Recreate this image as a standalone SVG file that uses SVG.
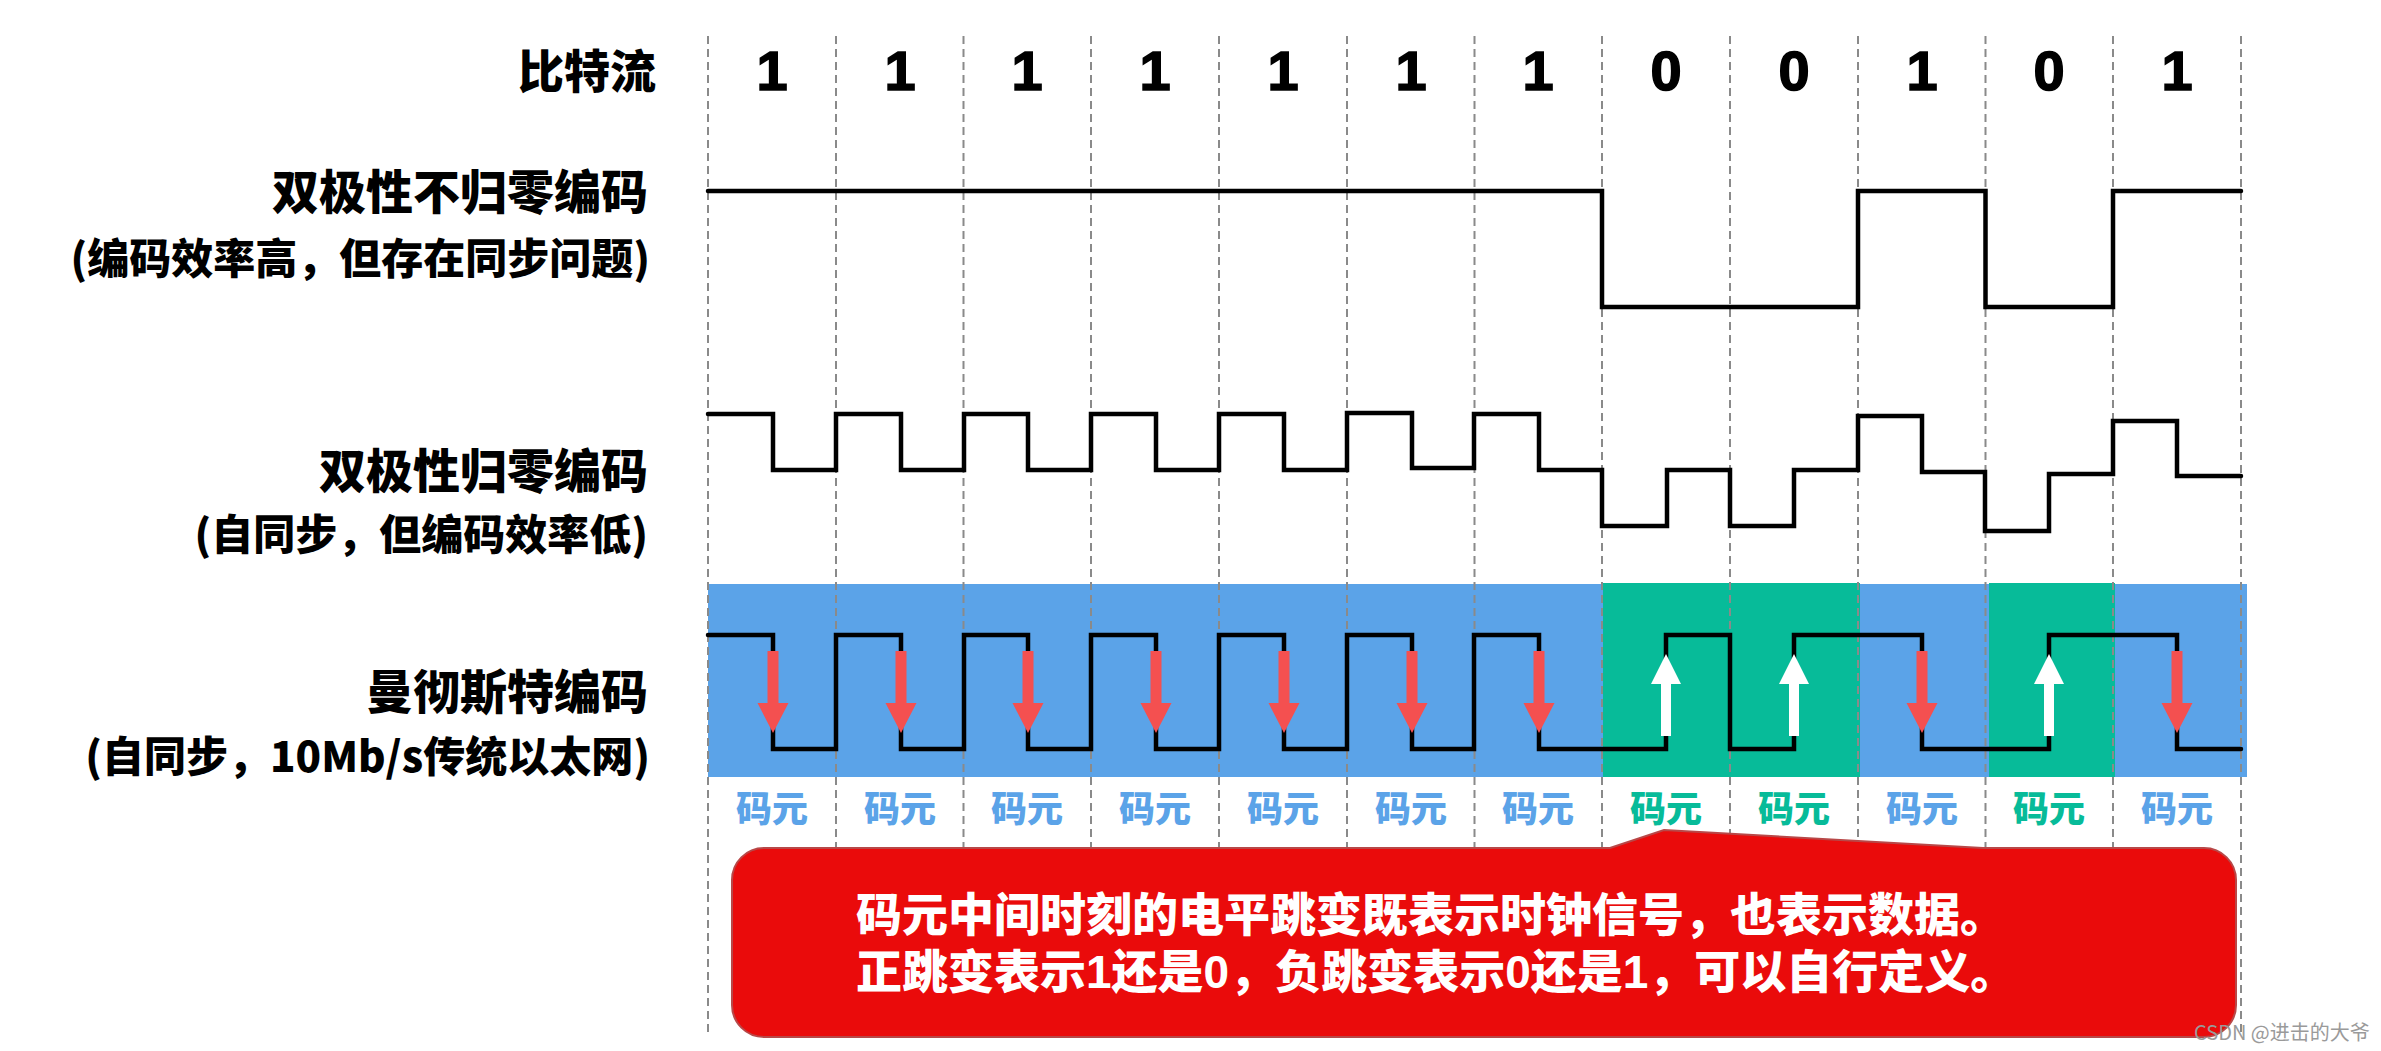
<svg xmlns="http://www.w3.org/2000/svg" width="2381" height="1051" viewBox="0 0 2381 1051">
<style>
.lbl{font-family:"Noto Sans CJK SC","Liberation Sans",sans-serif;font-weight:900;fill:#000;text-anchor:end}
.big{font-size:47px}
.sub{font-size:42px}
.bit{font-family:"Liberation Sans",Arial,sans-serif;font-weight:bold;font-size:56px;fill:#000;stroke:#000;stroke-width:1.5;text-anchor:middle}
.sym{font-family:"Noto Sans CJK SC","Liberation Sans",sans-serif;font-weight:900;font-size:36px;text-anchor:middle}
.symb{fill:#5BA3E8}
.symg{fill:#07BB99}
.grid{stroke:#8a8a8a;stroke-width:2;stroke-dasharray:8 5;fill:none}
.wave{stroke:#000;stroke-width:4.5;fill:none;stroke-linejoin:miter;stroke-linecap:round}
.down{fill:#F45050}
.up{fill:#FFFFFF}
.note{font-family:"Liberation Sans","Noto Sans CJK SC",sans-serif;font-weight:900;font-size:46px;fill:#FFFFFF}
</style>

<g id="backgrounds">
  <rect x="708" y="584" width="1539" height="193" fill="#5BA3E8"/>
  <rect x="1603" y="583" width="257" height="194" fill="#07BB99"/>
  <rect x="1989" y="583" width="126" height="194" fill="#07BB99"/>
</g>

<g id="grid">
  <line class="grid" x1="708" y1="36" x2="708" y2="1035"/>
  <line class="grid" x1="836" y1="36" x2="836" y2="1035"/>
  <line class="grid" x1="963.5" y1="36" x2="963.5" y2="1035"/>
  <line class="grid" x1="1091" y1="36" x2="1091" y2="1035"/>
  <line class="grid" x1="1219" y1="36" x2="1219" y2="1035"/>
  <line class="grid" x1="1347" y1="36" x2="1347" y2="1035"/>
  <line class="grid" x1="1474.5" y1="36" x2="1474.5" y2="1035"/>
  <line class="grid" x1="1602" y1="36" x2="1602" y2="1035"/>
  <line class="grid" x1="1730" y1="36" x2="1730" y2="1035"/>
  <line class="grid" x1="1858" y1="36" x2="1858" y2="1035"/>
  <line class="grid" x1="1985.5" y1="36" x2="1985.5" y2="1035"/>
  <line class="grid" x1="2113" y1="36" x2="2113" y2="1035"/>
  <line class="grid" x1="2241" y1="36" x2="2241" y2="1035"/>
</g>

<g id="row-labels">
  <text class="lbl" x="656" y="88" font-size="46">比特流</text>
  <text class="lbl big" x="648" y="209">双极性不归零编码</text>
  <text class="lbl sub" x="650" y="274">(编码效率高，但存在同步问题)</text>
  <text class="lbl big" x="648" y="488">双极性归零编码</text>
  <text class="lbl sub" x="648" y="550">(自同步，但编码效率低)</text>
  <text class="lbl big" x="648" y="709">曼彻斯特编码</text>
  <text class="lbl sub" x="650" y="772">(自同步，10Mb/s传统以太网)</text>
</g>

<g id="bits">
  <text class="bit" x="772" y="90">1</text>
  <text class="bit" x="900" y="90">1</text>
  <text class="bit" x="1027" y="90">1</text>
  <text class="bit" x="1155" y="90">1</text>
  <text class="bit" x="1283" y="90">1</text>
  <text class="bit" x="1411" y="90">1</text>
  <text class="bit" x="1538" y="90">1</text>
  <text class="bit" x="1666" y="90">0</text>
  <text class="bit" x="1794" y="90">0</text>
  <text class="bit" x="1922" y="90">1</text>
  <text class="bit" x="2049" y="90">0</text>
  <text class="bit" x="2177" y="90">1</text>
</g>

<g id="connectors">
  <path id="nrz" class="wave" d="M708 191 H1602 V307 H1858 V191 H1985.5 V307 H2113 V191 H2241"/>
  <path id="rz" class="wave" d="M708 414 H773 V470 H836 V414 H901 V470 H964 V414 H1028 V470 H1091 V414 H1156 V470 H1219 V414 H1284 V470 H1347 V413 H1412 V468 H1474 V414 H1539 V470 H1602 V526 H1667 V470 H1730 V526 H1794 V470 H1858 V416 H1922 V472 H1985 V531 H2049 V474 H2113 V421 H2177 V476 H2241"/>
  <path id="manchester" class="wave" d="M708 635 H773 V749 H836 V635 H901 V749 H964 V635 H1028 V749 H1091 V635 H1156 V749 H1219 V635 H1284 V749 H1347 V635 H1412 V749 H1474 V635 H1539 V749 H1666 V635 H1730 V749 H1794 V635 H1922 V749 H2049 V635 H2177 V749 H2241"/>
</g>

<g id="transition-arrows">
  <g class="down">
    <path d="M767.5 651 H778.5 V703 H788.5 L773 733 L757.5 703 H767.5 Z"/>
    <path d="M895.5 651 H906.5 V703 H916.5 L901 733 L885.5 703 H895.5 Z"/>
    <path d="M1022.5 651 H1033.5 V703 H1043.5 L1028 733 L1012.5 703 H1022.5 Z"/>
    <path d="M1150.5 651 H1161.5 V703 H1171.5 L1156 733 L1140.5 703 H1150.5 Z"/>
    <path d="M1278.5 651 H1289.5 V703 H1299.5 L1284 733 L1268.5 703 H1278.5 Z"/>
    <path d="M1406.5 651 H1417.5 V703 H1427.5 L1412 733 L1396.5 703 H1406.5 Z"/>
    <path d="M1533.5 651 H1544.5 V703 H1554.5 L1539 733 L1523.5 703 H1533.5 Z"/>
    <path d="M1916.5 651 H1927.5 V703 H1937.5 L1922 733 L1906.5 703 H1916.5 Z"/>
    <path d="M2171.5 651 H2182.5 V703 H2192.5 L2177 733 L2161.5 703 H2171.5 Z"/>
  </g>
  <g class="up">
    <path d="M1661 736 H1671 V684 H1681 L1666 654 L1651 684 H1661 Z"/>
    <path d="M1789 736 H1799 V684 H1809 L1794 654 L1779 684 H1789 Z"/>
    <path d="M2044 736 H2054 V684 H2064 L2049 654 L2034 684 H2044 Z"/>
  </g>
</g>

<g id="symbol-labels">
  <text class="sym symb" x="772" y="822">码元</text>
  <text class="sym symb" x="900" y="822">码元</text>
  <text class="sym symb" x="1027" y="822">码元</text>
  <text class="sym symb" x="1155" y="822">码元</text>
  <text class="sym symb" x="1283" y="822">码元</text>
  <text class="sym symb" x="1411" y="822">码元</text>
  <text class="sym symb" x="1538" y="822">码元</text>
  <text class="sym symg" x="1666" y="822">码元</text>
  <text class="sym symg" x="1794" y="822">码元</text>
  <text class="sym symb" x="1922" y="822">码元</text>
  <text class="sym symg" x="2049" y="822">码元</text>
  <text class="sym symb" x="2177" y="822">码元</text>
</g>

<g id="callout">
  <path d="M764 848 H1610 L1664 830 L1983 848 H2204 A32 32 0 0 1 2236 880 V1005 A32 32 0 0 1 2204 1037 H764 A32 32 0 0 1 732 1005 V880 A32 32 0 0 1 764 848 Z" fill="#EA0B0B" stroke="#B84848" stroke-width="2"/>
  <text class="note" x="856" y="931">码元中间时刻的电平跳变既表示时钟信号，也表示数据。</text>
  <text class="note" x="856" y="988">正跳变表示1还是0，负跳变表示0还是1，可以自行定义。</text>
</g>

<g id="watermark">
  <text x="2194" y="1040" font-family="'Noto Sans CJK SC','Liberation Sans',sans-serif" font-size="20" fill="#9a9a9a">CSDN @进击的大爷</text>
</g>
</svg>
